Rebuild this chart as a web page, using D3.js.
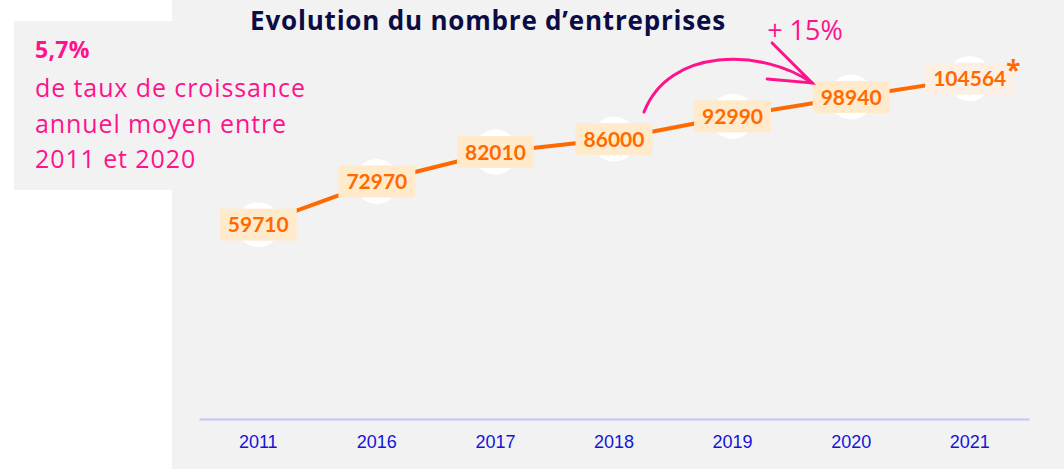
<!DOCTYPE html>
<html>
<head>
<meta charset="utf-8">
<script src="https://cdn.jsdelivr.net/npm/d3@7"></script>
<style>
  body { margin: 0; background: #fff; }
  svg { display: block; font-family: "Open Sans", "Noto Sans", sans-serif; }
</style>
</head>
<body>
<div id="chart"></div>
<script>
// Evolution du nombre d'entreprises, 2011-2021

const years = ["2011", "2016", "2017", "2018", "2019", "2020", "2021"];
const companies = [59710, 72970, 82010, 86000, 92990, 98940, 104564];
const estimated = [false, false, false, false, false, false, true]; // 2021 has an asterisk
const growthLines = ["de taux de croissance", "annuel moyen entre", "2011 et 2020"];

const width = 1064,
  height = 469,
  pink = "#ff138c",
  orange = "#ff6a00";

const svg = d3.select("#chart")
  .append("svg")
  .attr("width", width)
  .attr("height", height);

// grey panels
svg.append("rect")
  .attr("x", 172).attr("y", 0)
  .attr("width", width - 172).attr("height", height)
  .attr("fill", "#f2f2f2");
svg.append("rect")
  .attr("x", 14).attr("y", 21)
  .attr("width", 170).attr("height", 169)
  .attr("fill", "#f2f2f2");

const x = d3.scaleBand().domain(years).range([199, 1029]);
const y = d3.scaleLinear().domain([0, 120000]).range([419, 28.4]);

const data = years.map((yr, i) => ({ year: yr, value: companies[i], est: estimated[i] }));
const cx = d => x(d.year) + x.bandwidth() / 2;

// x axis
const xAxis = svg.append("g")
  .attr("transform", `translate(0,${y(0)})`)
  .call(d3.axisBottom(x).tickSize(0).tickPadding(16));
xAxis.select(".domain").attr("stroke", "#c2c2ff").attr("stroke-width", 2);
xAxis.selectAll("text")
  .attr("font-family", "'Liberation Sans', Arial, sans-serif")
  .attr("font-size", 18)
  .attr("fill", "#1515d6");

// title
svg.append("text")
  .attr("x", 488).attr("y", 30)
  .attr("text-anchor", "middle")
  .attr("font-size", 26)
  .attr("letter-spacing", 0.8)
  .attr("font-weight", "bold")
  .attr("fill", "#0c0c45")
  .text("Evolution du nombre d\u2019entreprises");

// left box text
const box = svg.append("text").attr("fill", pink).attr("font-size", 25).attr("letter-spacing", 0.9);
box.append("tspan").attr("x", 35).attr("y", 58)
  .attr("font-weight", "bold").attr("font-size", 23).attr("letter-spacing", 0.3).text("5,7%");
growthLines.forEach((t, i) => {
  box.append("tspan").attr("x", 35).attr("y", 97 + i * 35.5).text(t);
});

// white circles behind points
svg.append("g")
  .selectAll("circle")
  .data(data)
  .join("circle")
  .attr("cx", cx)
  .attr("cy", d => y(d.value))
  .attr("r", 22.5)
  .attr("fill", "#fff");

// line
svg.append("path")
  .datum(data)
  .attr("fill", "none")
  .attr("stroke", orange)
  .attr("stroke-width", 4)
  .attr("d", d3.line().x(cx).y(d => y(d.value)));

// value labels
const labels = svg.append("g")
  .selectAll("g")
  .data(data)
  .join("g")
  .attr("transform", d => `translate(${cx(d)},${y(d.value)})`);

labels.append("text")
  .attr("text-anchor", "middle")
  .attr("dy", "0.36em")
  .attr("font-family", "Lato, sans-serif")
  .attr("font-size", 21)
  .attr("font-weight", "bold")
  .attr("fill", orange)
  .text(d => d.value);

labels.each(function(d) {
  const g = d3.select(this);
  const w = g.select("text").node().getComputedTextLength() + 16;
  g.insert("rect", "text")
    .attr("x", -w / 2).attr("y", -16)
    .attr("width", w).attr("height", 32)
    .attr("fill", d.est ? "#fcefe4" : "#ffeacb");
  if (d.est) {
    g.append("text")
      .attr("x", w / 2 - 8).attr("y", 1)
      .attr("font-size", 26)
      .attr("font-weight", "bold")
      .attr("fill", orange)
      .text("*");
  }
});

// +15% annotation between 2018 and 2020
const from = data[3], to = data[5];
const sx = cx(from) + 30, sy = y(from.value) - 27;
const tx = cx(to) - 39, ty = y(to.value) - 14;

const ann = svg.append("g")
  .attr("fill", "none")
  .attr("stroke", pink)
  .attr("stroke-width", 3)
  .attr("stroke-linecap", "round");
ann.append("path")
  .attr("d", `M${sx},${sy} C${sx + 25},${sy - 65} ${tx - 50},${ty - 35} ${tx},${ty}`);
ann.append("path")
  .attr("d", `M${tx - 45},${ty - 4} L${tx},${ty} L${tx - 40},${ty - 40}`);

svg.append("text")
  .attr("x", tx - 45).attr("y", 40)
  .attr("font-size", 27)
  .attr("fill", pink)
  .text("+ 15%");
</script>
</body>
</html>
